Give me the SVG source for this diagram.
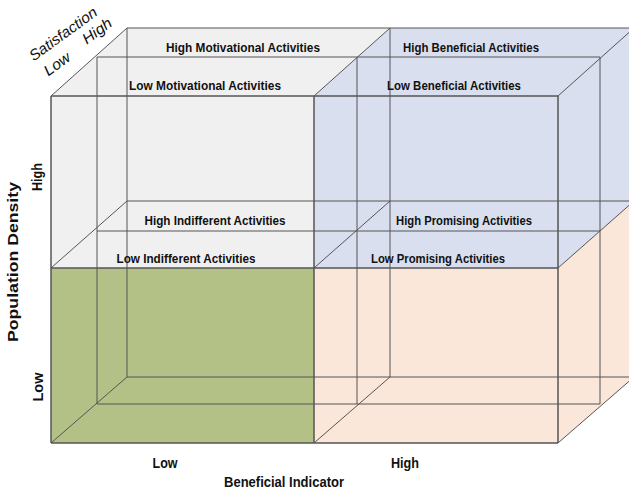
<svg xmlns="http://www.w3.org/2000/svg" width="629" height="491" viewBox="0 0 629 491">
<style>
.f{stroke:none}
.e{stroke:#555;stroke-width:1;fill:none}
.ef{stroke:#555;stroke-width:1.5;fill:none}
.lbl{font-family:"Liberation Sans",Arial,sans-serif;font-weight:bold;font-size:13.5px;fill:#111;text-anchor:middle}
.ax{font-family:"Liberation Sans",Arial,sans-serif;font-weight:bold;font-size:14px;fill:#111;text-anchor:middle}
.sat{font-family:"Liberation Sans",Arial,sans-serif;font-style:italic;font-size:15px;fill:#111;text-anchor:middle}
</style>
<rect width="629" height="491" fill="#fff"/>
<g id="cube-high-low">
<polygon class="f" fill="#f0f0f0" points="51,96 127,28 390,28 314,96 314,268 51,268"/>
</g>
<g id="cube-high-high">
<polygon class="f" fill="#d9dfee" points="314,96 390,28 634,28 634,201 558,268 314,268"/>
</g>
<g id="cube-low-low">
<rect class="f" fill="#b3c186" x="51" y="268" width="263" height="175"/>
</g>
<g id="cube-low-high">
<polygon class="f" fill="#fbe6da" points="314,268 558,268 634,201 634,377 558,443 314,443"/>
</g>
<g id="connectors">
<g class="e">
<path d="M127,28H634M127,201H634M127,377H634M127,28V377M390,28V377"/>
<path d="M97,57H600M97,231H600M97,404H600M97,57V404M357,57V404M600,57V404"/>
<path d="M51,96L127,28M314,96L390,28M558,96L634,28M51,268L127,201M314,268L390,201M558,268L634,201M51,443L127,377M314,443L390,377M558,443L634,377"/>
</g>
<path class="ef" d="M51,96H558M51,268H558M51,443H558M51,96V443M314,96V443M558,96V443"/>
</g>
<g id="labels">
<text id="t-hma" class="lbl" x="243" y="52" textLength="154" lengthAdjust="spacingAndGlyphs">High Motivational Activities</text>
<text id="t-lma" class="lbl" x="205" y="90" textLength="152" lengthAdjust="spacingAndGlyphs">Low Motivational Activities</text>
<text id="t-hba" class="lbl" x="471" y="52" textLength="136" lengthAdjust="spacingAndGlyphs">High Beneficial Activities</text>
<text id="t-lba" class="lbl" x="454" y="90" textLength="134" lengthAdjust="spacingAndGlyphs">Low Beneficial Activities</text>
<text id="t-hia" class="lbl" x="215" y="225" textLength="141" lengthAdjust="spacingAndGlyphs">High Indifferent Activities</text>
<text id="t-lia" class="lbl" x="186" y="263" textLength="139" lengthAdjust="spacingAndGlyphs">Low Indifferent Activities</text>
<text id="t-hpa" class="lbl" x="464" y="225" textLength="136" lengthAdjust="spacingAndGlyphs">High Promising Activities</text>
<text id="t-lpa" class="lbl" x="438" y="263" textLength="134" lengthAdjust="spacingAndGlyphs">Low Promising Activities</text>
</g>
<g id="axes">
<text class="ax" x="165" y="468" textLength="25" lengthAdjust="spacingAndGlyphs">Low</text>
<text class="ax" x="405" y="468" textLength="28" lengthAdjust="spacingAndGlyphs">High</text>
<text class="ax" x="284" y="487" textLength="120" lengthAdjust="spacingAndGlyphs">Beneficial Indicator</text>
<text class="ax" transform="translate(18,262) rotate(-90)" textLength="160" lengthAdjust="spacingAndGlyphs">Population Density</text>
<text class="ax" transform="translate(42,177) rotate(-90)" textLength="28" lengthAdjust="spacingAndGlyphs">High</text>
<text class="ax" transform="translate(43,387) rotate(-90)" textLength="29" lengthAdjust="spacingAndGlyphs">Low</text>
<text class="sat" transform="translate(66,38) rotate(-36)" textLength="80" lengthAdjust="spacingAndGlyphs">Satisfaction</text>
<text class="sat" transform="translate(60,68) rotate(-36)" textLength="29" lengthAdjust="spacingAndGlyphs">Low</text>
<text class="sat" transform="translate(100,35) rotate(-36)" textLength="33" lengthAdjust="spacingAndGlyphs">High</text>
</g>
</svg>
